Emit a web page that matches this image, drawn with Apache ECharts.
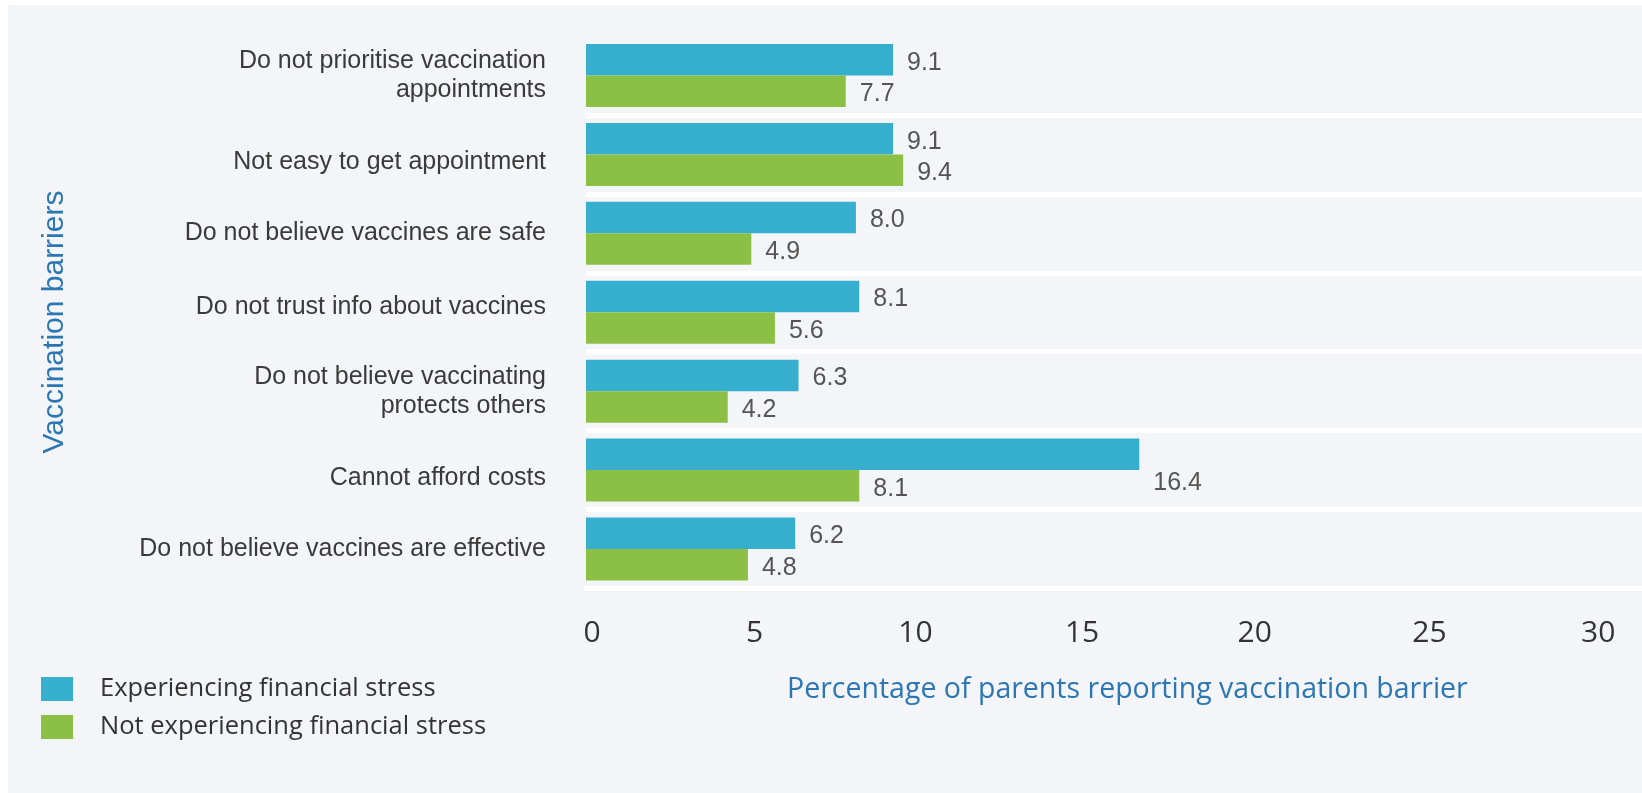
<!DOCTYPE html>
<html>
<head>
<meta charset="utf-8">
<title>Vaccination barriers by financial stress</title>
<script src="https://cdn.jsdelivr.net/npm/echarts@6/dist/echarts.min.js"></script>
<style>
  html, body { margin: 0; padding: 0; background: #ffffff; }
  #chart { width: 1642px; height: 793px; }
</style>
</head>
<body>
<div id="chart"></div>
<script>
// Barrier categories, listed top to bottom
const categories = [
  'Do not prioritise vaccination\nappointments',
  'Not easy to get appointment',
  'Do not believe vaccines are safe',
  'Do not trust info about vaccines',
  'Do not believe vaccinating\nprotects others',
  'Cannot afford costs',
  'Do not believe vaccines are effective'
];

const seriesNames = ['Experiencing financial stress', 'Not experiencing financial stress'];

// Percentage of parents reporting each barrier
const stressedValues = [9.1, 9.1, 8.0, 8.1, 6.3, 16.4, 6.2];
const notStressedValues = [7.7, 9.4, 4.9, 5.6, 4.2, 8.1, 4.8];

// Value axis: ticks every 5 from 0; the plot runs a little past 30 to the right edge
const xMin = 0;
const xMax = 31.3;
const xStep = 5;

const xTitle = 'Percentage of parents reporting vaccination barrier';
const yTitle = 'Vaccination barriers';

const BLUE = '#36afcf';
const GREEN = '#8cc045';
const TITLE_BLUE = '#2c77b3';
const PANEL = '#f4f5f9';

// small vertical nudges (px, + is down) for some category labels
const labelNudge = { 1: 8, 3: -5, 5: 8 };
// small horizontal nudges (px, + is right) for some tick labels
const tickNudge = { 0: 6, 10: -8, 15: -10, 20: -6 };

// the "Cannot afford costs" value label for the blue bar sits one row lower
const droppedLabelIndex = categories.indexOf('Cannot afford costs');

const chart = echarts.init(document.getElementById('chart'), null, { renderer: 'canvas' });

const CAT_FONT = 'Liberation Sans, Arial, sans-serif';
const TICK_FONT = '"Open Sans", sans-serif';

const valueLabel = {
  show: true,
  position: 'right',
  distance: 14,
  offset: [0, 3],
  color: '#555555',
  fontFamily: CAT_FONT,
  fontSize: 25,
  formatter: p => Number(p.value).toFixed(1)
};

const catRich = {};
Object.keys(labelNudge).forEach(k => {
  const n = labelNudge[k];
  catRich['n' + k] = {
    color: '#3a3a3a',
    fontFamily: CAT_FONT,
    fontSize: 25,
    lineHeight: 29,
    padding: n > 0 ? [2 * n, 0, 0, 0] : [0, 0, -2 * n, 0]
  };
});

const tickRich = {};
Object.keys(tickNudge).forEach(k => {
  const n = tickNudge[k];
  tickRich['t' + k] = {
    color: '#333333',
    fontFamily: TICK_FONT,
    fontSize: 30,
    padding: n > 0 ? [0, 0, 0, 2 * n] : [0, -2 * n, 0, 0]
  };
});

chart.setOption({
  backgroundColor: 'transparent',
  animation: false,
  graphic: [
    {
      type: 'rect',
      z: -10,
      silent: true,
      shape: { x: 8, y: 5, width: 1634, height: 788 },
      style: { fill: PANEL }
    },
    {
      type: 'text',
      x: 55,
      y: 322,
      rotation: Math.PI / 2,
      style: {
        text: yTitle,
        align: 'center',
        verticalAlign: 'middle',
        fill: TITLE_BLUE,
        font: '30px "Liberation Sans", Arial, sans-serif'
      }
    }
  ],
  title: {
    text: xTitle,
    left: 787,
    top: 675,
    padding: 0,
    textStyle: {
      color: TITLE_BLUE,
      fontFamily: TICK_FONT,
      fontSize: 28.5,
      fontWeight: 'normal'
    }
  },
  legend: {
    orient: 'vertical',
    left: 41,
    top: 676,
    padding: 0,
    itemWidth: 32,
    itemHeight: 24,
    itemGap: 12,
    icon: 'rect',
    data: seriesNames,
    textStyle: {
      color: '#333333',
      fontFamily: TICK_FONT,
      fontSize: 25.5,
      lineHeight: 24,
      padding: [0, 0, 0, 22]
    }
  },
  grid: {
    left: 586,
    right: 0,
    top: 36,
    bottom: 204.5,
    containLabel: false
  },
  xAxis: {
    type: 'value',
    min: xMin,
    max: xMax,
    interval: xStep,
    axisLine: { show: true, lineStyle: { color: '#ffffff', width: 5 } },
    axisTick: { show: false },
    splitLine: { show: false },
    axisLabel: {
      margin: 30,
      showMaxLabel: false,
      color: '#333333',
      fontFamily: TICK_FONT,
      fontSize: 30,
      rich: tickRich,
      formatter: v => {
        if (v % xStep !== 0) return '';
        return tickNudge[v] !== undefined ? '{t' + v + '|' + v + '}' : String(v);
      }
    }
  },
  yAxis: {
    type: 'category',
    inverse: true,
    data: categories,
    axisLine: { show: false },
    axisTick: { show: false },
    // white separators below each category, none above the first one
    splitLine: {
      show: true,
      interval: index => index !== 0,
      lineStyle: { color: '#ffffff', width: 5 }
    },
    axisLabel: {
      margin: 40,
      color: '#3a3a3a',
      fontFamily: CAT_FONT,
      fontSize: 25,
      lineHeight: 29,
      align: 'right',
      rich: catRich,
      formatter: (value, index) =>
        labelNudge[index] !== undefined ? '{n' + index + '|' + value + '}' : value
    }
  },
  series: [
    {
      name: seriesNames[0],
      type: 'bar',
      barWidth: 31.5,
      barGap: '0%',
      itemStyle: { color: BLUE },
      label: valueLabel,
      data: stressedValues.map((v, i) =>
        i === droppedLabelIndex ? { value: v, label: { offset: [0, 29] } } : v)
    },
    {
      name: seriesNames[1],
      type: 'bar',
      barWidth: 31.5,
      barGap: '0%',
      itemStyle: { color: GREEN },
      label: valueLabel,
      data: notStressedValues
    }
  ]
});
</script>
</body>
</html>
